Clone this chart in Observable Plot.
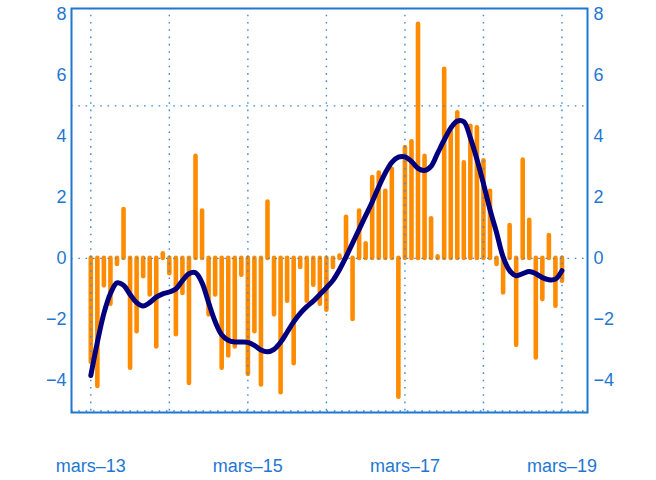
<!DOCTYPE html>
<html><head><meta charset="utf-8">
<script src="https://cdn.jsdelivr.net/npm/d3@7"></script>
<script src="https://cdn.jsdelivr.net/npm/@observablehq/plot@0.6"></script>
<style>body{margin:0;background:#fff}</style>
</head><body><div id="chart"></div>
<script>
// Monthly values, March 2013 (index 0) to March 2019 (index 72)
const barValues = [
  -3.4, -4.2, -0.9, -1.5, -0.2, 1.6, -3.6, -2.4, -0.6, -1.2, -2.9, 0.15,
  -0.5, -2.5, -1.15, -4.1, 3.35, 1.55, -1.85, -1.2, -3.6, -3.2, -2.9, -0.55,
  -3.8, -2.4, -4.15, 1.85, -1.85, -4.4, -1.4, -3.45, -0.3, -1.4, -0.88, -1.5,
  -1.7, -0.3, 0.08, 1.35, -2.0, 1.55, 0.48, 2.65, 2.8, 2.2, 2.92, -4.55,
  3.63, 3.82, 7.67, 3.35, 1.3, 0.05, 6.2, 4.17, 4.77, 3.13, 4.33, 4.28,
  3.2, 2.2, -0.2, -1.13, 1.08, -2.85, 3.22, 1.25, -3.26, -1.35, 0.75, -1.57,
  -0.75
];
const lineValues = [
  -3.84, -2.75, -1.8, -1.15, -0.8, -0.88, -1.18, -1.45, -1.56, -1.45, -1.27, -1.16,
  -1.1, -1.0, -0.73, -0.5, -0.47, -0.8, -1.45, -2.07, -2.5, -2.68, -2.74, -2.74,
  -2.75, -2.85, -3.0, -3.06, -2.98, -2.75, -2.42, -2.08, -1.8, -1.58, -1.4, -1.18,
  -0.96, -0.72, -0.37, 0.05, 0.5, 0.95, 1.4, 1.85, 2.35, 2.8, 3.15, 3.32,
  3.33, 3.18, 2.95, 2.88, 3.02, 3.45, 3.88, 4.27, 4.5, 4.48, 3.95, 3.25,
  2.45, 1.6, 0.85, 0.05, -0.4, -0.57, -0.5, -0.43, -0.5, -0.63, -0.7, -0.68,
  -0.4
];
const gridMonths = [0, 12, 24, 36, 48, 60, 72];
const labelMonths = [0, 24, 48, 72];
const labelTexts = ["mars–13", "mars–15", "mars–17", "mars–19"];
const yTicks = [-4, -2, 0, 2, 4, 6, 8];
const yGrid = [-5, 0, 5];

const bars = barValues.map((v, i) => ({m: i, v}));
const trend = lineValues.map((v, i) => ({m: i, v}));

const blue = "#1f77d2";
const gridBlue = "#3c88d8";
const fmtY = d => d < 0 ? "\u2212" + (-d) : String(d);

const chart = Plot.plot({
  width: 656,
  height: 480,
  marginLeft: 71,
  marginRight: 69,
  marginTop: 8,
  marginBottom: 68,
  style: {fontFamily: "'Liberation Sans', Arial, sans-serif", fontSize: "18px", color: blue, background: "white"},
  x: {type: "linear", domain: [-2.95, 75.9]},
  y: {domain: [-5.05, 8.19]},
  marks: [
    Plot.ruleX(bars, {x: "m", y1: 0, y2: "v", stroke: "#ff8c00", strokeWidth: 4.6, strokeLinecap: "round"}),
    Plot.ruleX(gridMonths, {y1: -5, y2: 8, stroke: gridBlue, strokeWidth: 1.4, strokeDasharray: "1.6,5.7"}),
    Plot.ruleY(yGrid, {stroke: gridBlue, strokeWidth: 1.4, strokeDasharray: "1.6,5.7"}),
    Plot.line(trend, {x: "m", y: "v", stroke: "#00007f", strokeWidth: 5, curve: "catmull-rom", strokeLinejoin: "round", strokeLinecap: "round"}),
    Plot.frame({stroke: blue, strokeWidth: 2}),
    Plot.axisY(yTicks, {anchor: "left", label: null, tickSize: 0, tickPadding: 5, tickFormat: fmtY, fontSize: 18}),
    Plot.axisY(yTicks, {anchor: "right", label: null, tickSize: 0, tickPadding: 6, tickFormat: fmtY, fontSize: 18}),
    Plot.axisX(labelMonths, {anchor: "bottom", label: null, tickSize: 0, tickPadding: 47, fontSize: 18,
      tickFormat: d => labelTexts[labelMonths.indexOf(d)]})
  ]
});
document.getElementById("chart").appendChild(chart);
</script>
</body></html>
